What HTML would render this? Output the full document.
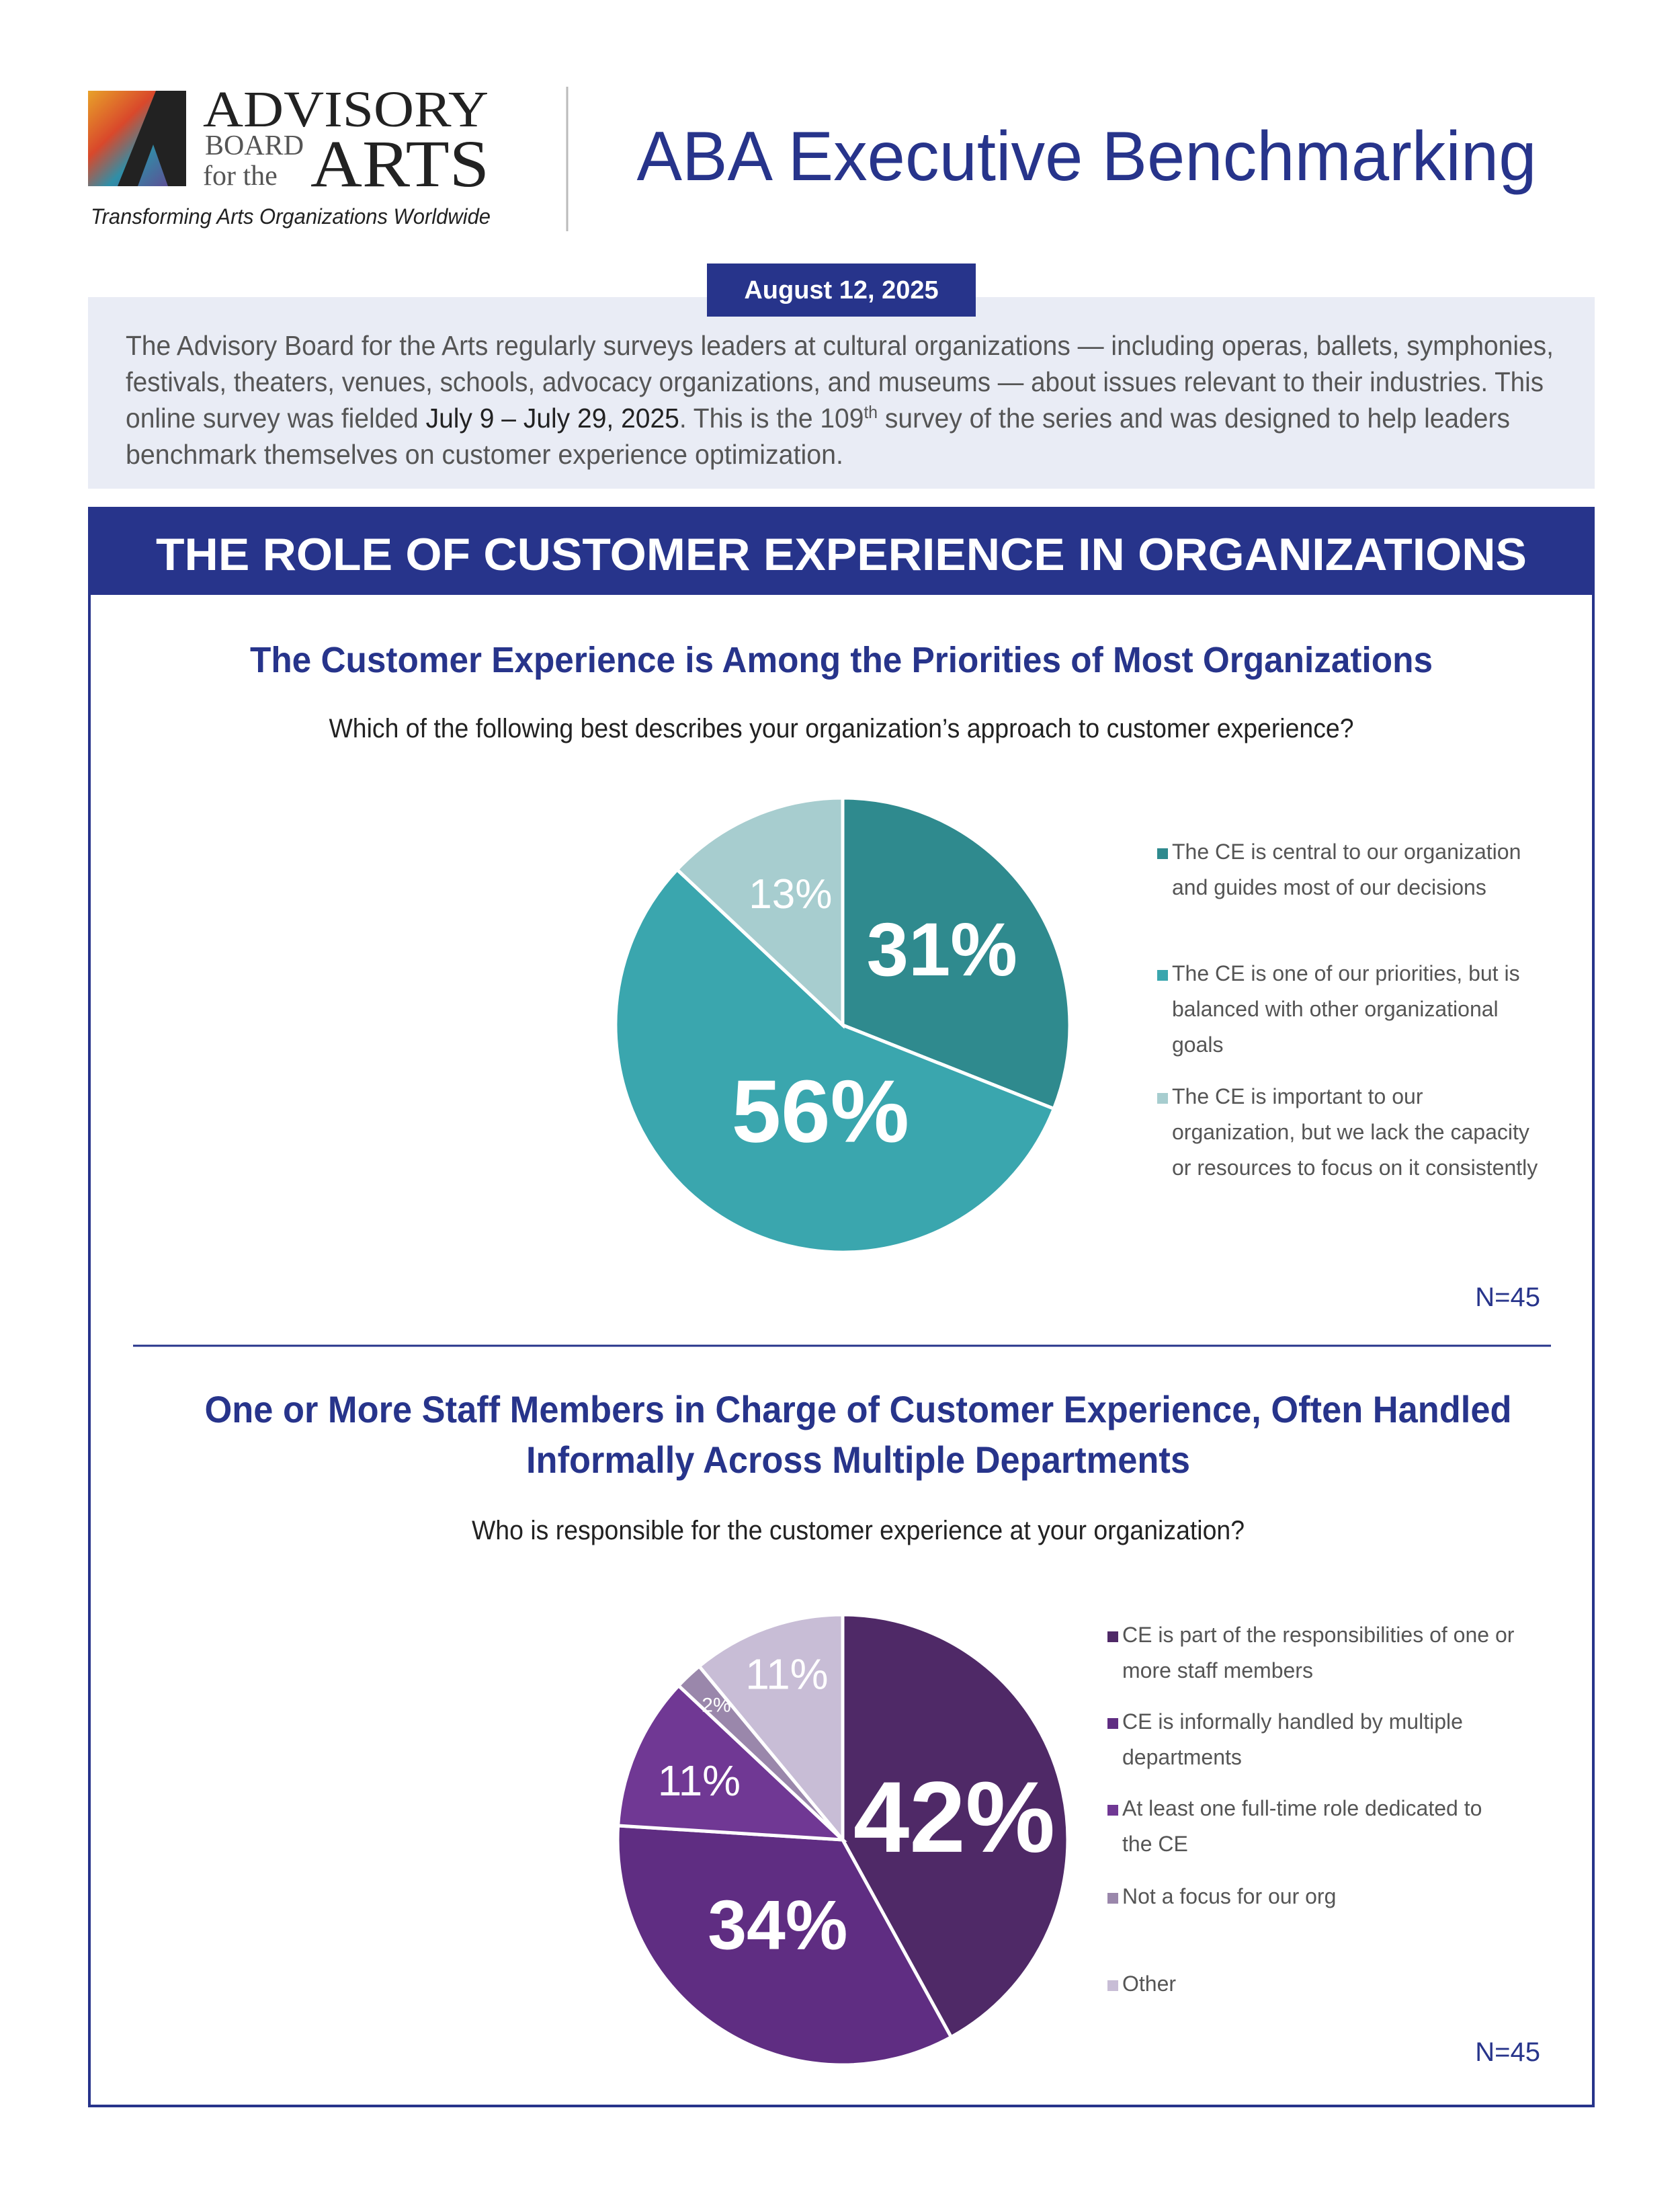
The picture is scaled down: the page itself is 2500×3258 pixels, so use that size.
<!DOCTYPE html>
<html><head><meta charset="utf-8"><title>ABA Executive Benchmarking</title>
<style>
html,body{margin:0;padding:0;background:#fff;}
svg{display:block;font-family:"Liberation Sans",sans-serif;}
</style></head>
<body>
<svg id="page" width="2500" height="3258" viewBox="0 0 2500 3258" xmlns="http://www.w3.org/2000/svg">
<defs>
<linearGradient id="lg" x1="0" y1="0" x2="1" y2="1">
<stop offset="0" stop-color="#e8a22a"/><stop offset="0.35" stop-color="#d9482b"/><stop offset="0.6" stop-color="#2f8fa8"/><stop offset="1" stop-color="#6a3d8f"/>
</linearGradient>
</defs>
<g>
<rect x="131" y="135" width="146" height="142" fill="url(#lg)"/>
<path d="M175 277 L232 135 L277 135 L277 277 L250 277 L228 215 L205 277 Z" fill="#222"/>
<text x="302" y="188" font-family="Liberation Serif,serif" font-size="76" fill="#222" textLength="425" lengthAdjust="spacingAndGlyphs">ADVISORY</text>
<text x="305" y="230" font-family="Liberation Serif,serif" font-size="42" fill="#555">BOARD</text>
<text x="302" y="275" font-family="Liberation Serif,serif" font-size="42" fill="#555">for the</text>
<text x="462" y="277" font-family="Liberation Serif,serif" font-size="100" fill="#222" textLength="266" lengthAdjust="spacingAndGlyphs">ARTS</text>
<text x="135" y="333" font-size="32" font-style="italic" fill="#222" textLength="595" lengthAdjust="spacingAndGlyphs">Transforming Arts Organizations Worldwide</text>
</g>
<line x1="844" y1="129" x2="844" y2="344" stroke="#bbb" stroke-width="3"/>
<text x="1617" y="268" text-anchor="middle" font-size="104" fill="#27348b" textLength="1339" lengthAdjust="spacingAndGlyphs">ABA Executive Benchmarking</text>

<rect x="131" y="442" width="2242" height="285" fill="#e9ecf5"/>
<rect x="1052" y="392" width="400" height="79" fill="#27348b"/>
<text x="1252" y="444" text-anchor="middle" font-size="38" font-weight="bold" fill="#fff">August 12, 2025</text>
<g font-size="41" fill="#555">
<text x="187" y="528" textLength="2125" lengthAdjust="spacingAndGlyphs">The Advisory Board for the Arts regularly surveys leaders at cultural organizations — including operas, ballets, symphonies,</text>
<text x="187" y="582" textLength="2110" lengthAdjust="spacingAndGlyphs">festivals, theaters, venues, schools, advocacy organizations, and museums — about issues relevant to their industries. This</text>
<text x="187" y="636" textLength="2060" lengthAdjust="spacingAndGlyphs">online survey was fielded <tspan fill="#222">July 9 – July 29, 2025</tspan>. This is the 109<tspan font-size="26" dy="-14">th</tspan><tspan dy="14"> survey of the series and was designed to help leaders</tspan></text>
<text x="187" y="690" textLength="1068" lengthAdjust="spacingAndGlyphs">benchmark themselves on customer experience optimization.</text>
</g>

<rect x="133" y="756" width="2238" height="2377" fill="none" stroke="#27348b" stroke-width="4"/>
<rect x="131" y="754" width="2242" height="131" fill="#27348b"/>
<text x="1252" y="848" text-anchor="middle" font-size="68" font-weight="bold" fill="#fff" textLength="2040" lengthAdjust="spacingAndGlyphs">THE ROLE OF CUSTOMER EXPERIENCE IN ORGANIZATIONS</text>

<text x="1252" y="1000" text-anchor="middle" font-size="54" font-weight="bold" fill="#27348b" textLength="1760" lengthAdjust="spacingAndGlyphs">The Customer Experience is Among the Priorities of Most Organizations</text>
<text x="1252" y="1097" text-anchor="middle" font-size="40" fill="#222" textLength="1525" lengthAdjust="spacingAndGlyphs">Which of the following best describes your organization’s approach to customer experience?</text>
<g id="pie1"></g>
<g id="leg1"></g>
<text x="2292" y="1943" text-anchor="end" font-size="40" fill="#27348b">N=45</text>

<line x1="198" y1="2002" x2="2308" y2="2002" stroke="#27348b" stroke-width="3"/>

<text x="1277" y="2116" text-anchor="middle" font-size="56" font-weight="bold" fill="#27348b" textLength="1945" lengthAdjust="spacingAndGlyphs">One or More Staff Members in Charge of Customer Experience, Often Handled</text>
<text x="1277" y="2191" text-anchor="middle" font-size="56" font-weight="bold" fill="#27348b" textLength="988" lengthAdjust="spacingAndGlyphs">Informally Across Multiple Departments</text>
<text x="1277" y="2290" text-anchor="middle" font-size="40" fill="#222" textLength="1150" lengthAdjust="spacingAndGlyphs">Who is responsible for the customer experience at your organization?</text>
<g id="pie2"></g>
<g id="leg2"></g>
<text x="2292" y="3066" text-anchor="end" font-size="40" fill="#27348b">N=45</text>
</svg>
<script>
const pie1Categories = ["The CE is central to our organization|and guides most of our decisions","The CE is one of our priorities, but is|balanced with other organizational|goals","The CE is important to our|organization, but we lack the capacity|or resources to focus on it consistently"];
const pie1Values = [31, 56, 13];
const pie1Colors = ["#2f8a8e", "#3aa6ae", "#a7cdcf"];
const pie2Categories = ["CE is part of the responsibilities of one or|more staff members","CE is informally handled by multiple|departments","At least one full-time role dedicated to|the CE","Not a focus for our org","Other"];
const pie2Values = [42, 34, 11, 2, 11];
const pie2Colors = ["#4f2967", "#5f2d82", "#703894", "#9a87ab", "#c8bdd6"];

const NS = "http://www.w3.org/2000/svg";
function mk(tag, attrs, parent){const e=document.createElementNS(NS,tag);for(const k in attrs)e.setAttribute(k,attrs[k]);parent.appendChild(e);return e;}
function pt(cx,cy,r,deg){const a=deg*Math.PI/180;return [cx+r*Math.sin(a), cy-r*Math.cos(a)];}

function drawPie(gid, values, colors, cx, cy, r, labelFrac, labelSize, labelDx, labelDy){
  const g=document.getElementById(gid);
  const total=values.reduce((a,b)=>a+b,0);
  let start=0;
  values.forEach((v,i)=>{
    const sweep=v/total*360, end=start+sweep;
    const p0=pt(cx,cy,r,start), p1=pt(cx,cy,r,end);
    const path=mk("path",{d:`M${cx} ${cy} L${p0[0]} ${p0[1]} A${r} ${r} 0 ${sweep>180?1:0} 1 ${p1[0]} ${p1[1]} Z`,fill:colors[i],stroke:"#fff","stroke-width":5},g);
    
    
    const m=pt(cx,cy,r*labelFrac[i],(start+end)/2);
    const t=mk("text",{x:m[0]+labelDx[i],y:m[1]+labelDy[i],"text-anchor":"middle","dominant-baseline":"central","font-size":labelSize[i],fill:"#fff","font-weight":labelSize[i]>80?"bold":"normal"},g);
    t.textContent=v+"%";
    
    
    start=end;
  });
}
function drawLegend(gid, cats, colors, x, ys, lh){
  const g=document.getElementById(gid);
  cats.forEach((c,i)=>{
    const sq=mk("rect",{x:x,y:ys[i]-16,width:16,height:16,fill:colors[i]},g);
    
    
    c.split("|").forEach((line,j)=>{
      const t=mk("text",{x:x+22,y:ys[i]+j*lh,"font-size":32,fill:"#555"},g);
      t.textContent=line;
      
      
    });
  });
}
drawPie("pie1", pie1Values, pie1Colors, 1254, 1525, 338, [0.55,0.47,0.72], [112,132,62], [-6,52,19], [-8,-6,29]);
drawPie("pie2", pie2Values, pie2Colors, 1254, 2737, 335, [0.53,0.55,0.75,0.82,0.75], [150,104,64,30,64], [-6,2,17,0,2], [10,-28,12,0,-10]);
drawLegend("leg1", pie1Categories, pie1Colors, 1722, [1278,1459,1642], 53);
drawLegend("leg2", pie2Categories, pie2Colors, 1648, [2443,2572,2701,2832,2962], 53);
</script>
</body></html>
